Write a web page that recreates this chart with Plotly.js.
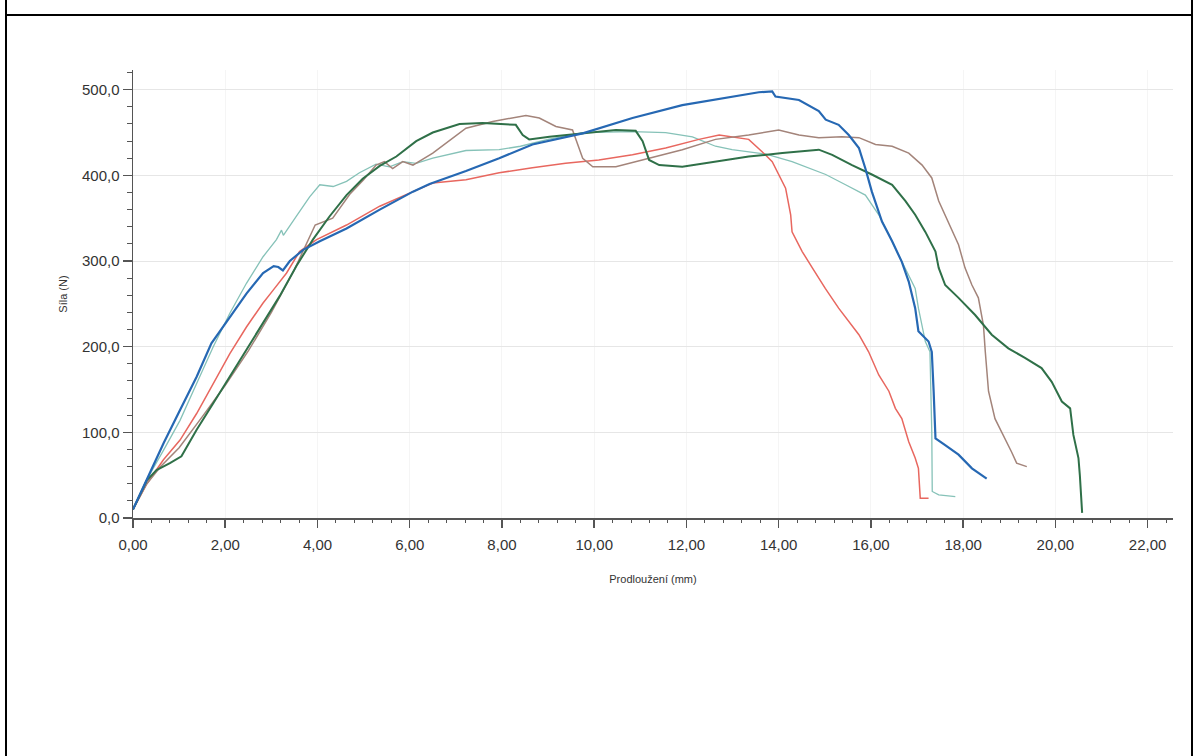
<!DOCTYPE html>
<html>
<head>
<meta charset="utf-8">
<script src="https://cdn.plot.ly/plotly-3.0.1.min.js"></script>
<style>
  html, body { margin: 0; padding: 0; background: #fff; }
  #wrap { position: relative; width: 1197px; height: 756px; overflow: hidden; }
  #chart { position: absolute; left: 0; top: 0; width: 1197px; height: 756px; }
  .ln { position: absolute; background: #000; }
</style>
</head>
<body>
<div id="wrap">
  <div id="chart"></div>
  <div class="ln" style="left:5px; top:0; width:2px; height:756px;"></div>
  <div class="ln" style="left:1191px; top:0; width:2px; height:756px;"></div>
  <div class="ln" style="left:5px; top:14px; width:1188px; height:2px;"></div>
</div>
<script>
// Series: elongation (mm) vs force (N)
const blueX = [0,0.37,0.66,1.02,1.38,1.70,2.10,2.46,2.82,3.05,3.15,3.25,3.40,3.69,4.05,4.63,5.35,6.07,6.43,7.22,7.94,8.66,9.75,10.83,11.91,12.99,13.57,13.86,13.93,14.44,14.87,15.02,15.30,15.52,15.74,15.88,16.02,16.24,16.46,16.67,16.82,16.96,17.03,17.25,17.32,17.36,17.40,17.61,17.90,18.19,18.51];
const blueY = [10,53,87,126,165,204,235,262,286,294,293,289,300,313,323,338,360,381,390,405,420,436,449,467,482,492,497,498,492,488,475,465,459,447,432,408,381,346,323,299,276,245,218,206,194,148,93,85,74,58,46];

const redX = [0,0.30,0.66,1.02,1.38,1.74,2.10,2.46,2.82,3.04,3.33,3.61,3.98,4.63,5.35,6.07,6.50,7.22,7.94,8.66,9.38,10.10,10.83,11.55,12.27,12.71,13.14,13.35,13.71,13.86,14.15,14.26,14.29,14.51,14.73,15.01,15.30,15.52,15.74,15.95,16.17,16.39,16.53,16.67,16.82,16.96,17.03,17.07,17.25];
const redY = [10,40,68,91,122,157,192,223,251,266,286,311,325,342,364,381,391,395,403,409,414,418,424,432,442,447,444,442,424,416,385,354,334,311,292,268,245,229,214,194,167,148,128,116,89,70,58,23,23];

const mintX = [0,0.30,0.66,1.02,1.38,1.74,2.10,2.46,2.82,3.11,3.22,3.26,3.54,3.83,4.05,4.34,4.63,4.91,5.27,5.56,5.85,6.14,6.50,7.22,7.94,8.40,9.00,9.75,10.83,11.55,12.13,12.63,12.99,13.71,14.29,15.02,15.45,15.88,16.17,16.39,16.60,16.82,16.96,17.03,17.18,17.28,17.32,17.33,17.47,17.83];
const mintY = [10,45,79,114,157,200,239,274,305,325,336,330,352,375,389,387,393,403,413,410,416,414,420,429,430,434,442,450,451,450,445,434,430,425,416,401,389,377,354,331,307,284,268,245,206,194,100,31,27,25];

const greenX = [0,0.30,0.51,0.80,1.05,1.38,1.74,2.10,2.46,2.82,3.18,3.54,3.90,4.26,4.63,4.98,5.35,5.71,6.14,6.50,7.08,7.58,8.30,8.45,8.59,9.03,9.75,10.47,10.90,11.05,11.19,11.41,11.91,12.63,13.35,14.08,14.87,15.16,15.59,16.02,16.46,16.75,16.96,17.18,17.40,17.47,17.61,17.90,18.26,18.62,18.98,19.34,19.70,19.92,20.14,20.32,20.39,20.50,20.53,20.58];
const greenY = [10,44,56,64,72,103,134,165,196,227,259,294,325,352,377,396,411,422,440,450,460,461,459,447,442,445,449,453,452,440,418,412,410,416,422,426,430,424,412,401,389,370,354,334,311,292,272,257,237,214,198,187,175,159,136,128,97,70,50,6];

const brownX = [0,0.30,0.60,1.00,1.50,2.00,2.50,3.00,3.50,3.85,3.95,4.33,4.70,5.00,5.27,5.45,5.63,5.85,6.07,6.50,7.22,7.80,8.52,8.81,9.17,9.53,9.75,9.97,10.47,11.19,11.91,12.63,13.35,14.00,14.44,14.87,15.37,15.74,16.10,16.46,16.82,17.11,17.32,17.47,17.68,17.90,18.04,18.19,18.33,18.44,18.48,18.55,18.69,18.91,19.05,19.16,19.38];
const brownY = [10,40,60,82,118,155,195,240,290,330,342,350,378,395,412,416,408,416,412,426,455,463,470,467,457,453,420,410,410,420,430,442,447,453,447,444,445,444,436,434,426,412,397,370,346,319,292,272,257,225,194,148,116,93,77,64,60];

const xTitle = "Prodloužení (mm)";
const yTitle = "Síla (N)";

function tr(x, y, color, width) {
  return { x: x, y: y, type: 'scatter', mode: 'lines', line: { color: color, width: width }, hoverinfo: 'skip', showlegend: false };
}

const data = [
  tr(mintX, mintY, '#86c2b8', 1.3),
  tr(redX, redY, '#e8675f', 1.5),
  tr(brownX, brownY, '#a3847a', 1.5),
  tr(greenX, greenY, '#2f7048', 2),
  tr(blueX, blueY, '#2668b3', 2.2)
];

const tickFont = { family: 'Liberation Sans, Arial, sans-serif', size: 15, color: '#333' };

const layout = {
  width: 1197, height: 756,
  margin: { l: 133, r: 24, t: 70, b: 238, pad: 0 },
  paper_bgcolor: 'rgba(0,0,0,0)', plot_bgcolor: '#fff',
  separators: ', ',
  showlegend: false,
  xaxis: {
    range: [0, 22.55], tick0: 0, dtick: 2, tickformat: '.2f',
    showgrid: true, gridcolor: '#f5f5f5', gridwidth: 1, zeroline: false,
    showline: true, linecolor: '#555', linewidth: 1.5,
    ticks: 'outside', ticklen: 8, tickwidth: 1.5, tickcolor: '#555',
    ticklabelstandoff: 4,
    minor: { dtick: 0.4, ticks: 'outside', ticklen: 3, tickwidth: 1, tickcolor: '#555', showgrid: false },
    tickfont: tickFont,
    title: { text: xTitle, font: { family: 'Liberation Sans, Arial, sans-serif', size: 11, color: '#333' }, standoff: 24 }
  },
  yaxis: {
    range: [0, 523], tick0: 0, dtick: 100, tickformat: '.1f',
    showgrid: true, gridcolor: '#e6e6e6', gridwidth: 1, zeroline: false,
    showline: true, linecolor: '#555', linewidth: 1.5,
    ticks: 'outside', ticklen: 9, tickwidth: 1.5, tickcolor: '#555',
    minor: { dtick: 20, ticks: 'outside', ticklen: 5, tickwidth: 1, tickcolor: '#555', showgrid: false },
    tickfont: tickFont,
    title: { text: yTitle, font: { family: 'Liberation Sans, Arial, sans-serif', size: 11, color: '#333' }, standoff: 12 }
  }
};

Plotly.newPlot('chart', data, layout, { displayModeBar: false, staticPlot: true });
</script>
</body>
</html>
